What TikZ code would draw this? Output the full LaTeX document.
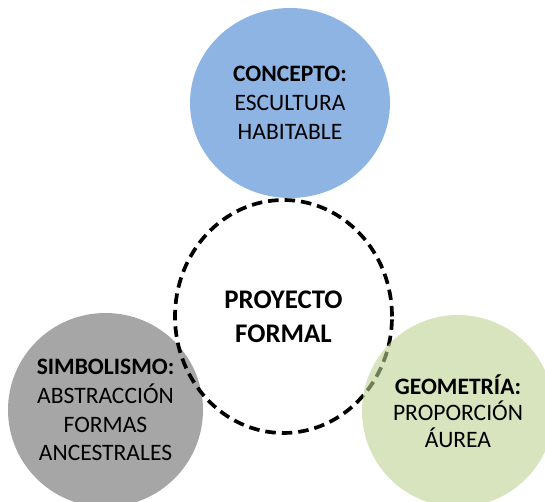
\documentclass[tikz,border=0pt]{standalone}
\usepackage{fontspec}
\setmainfont{Carlito}
\usepackage{tikz}
\usetikzlibrary{shapes.geometric}

\definecolor{SkyBlue}{RGB}{142,180,227}
\definecolor{StoneGray}{RGB}{166,166,166}
\definecolor{SageGreen}{RGB}{188,210,145}

\begin{document}
\begin{tikzpicture}[
    bubble/.style={ellipse, inner sep=0pt, align=center, text=black,
                   font=\fontsize{13.4}{16.4}\selectfont},
    core/.style={ellipse, inner sep=0pt, align=center, draw=black,
                 line width=2.1pt, dash pattern=on 6pt off 3.4pt,
                 font=\fontsize{15.3}{19.4}\selectfont\bfseries}
  ]
    \useasboundingbox (0,0) rectangle (10.9,10.04);
    % outer circles
    \node[bubble, fill=StoneGray, minimum width=3.9cm, minimum height=3.88cm]
         (simb) at (2.11,1.84)
         {\textbf{SIMBOLISMO:}\\ABSTRACCIÓN\\FORMAS\\ANCESTRALES};
    \node[core, minimum width=4.34cm, minimum height=4.66cm]
         (proy) at (5.67,3.71) {PROYECTO\\FORMAL};
    \node[bubble, fill=SageGreen, fill opacity=0.6, text opacity=1,
          minimum width=3.84cm, minimum height=3.84cm,
          font=\fontsize{13.4}{15.2}\selectfont]
         (geom) at (9.16,1.82) {\textbf{GEOMETRÍA:}\\PROPORCIÓN\\ÁUREA};
    \node[bubble, fill=SkyBlue, minimum width=4cm, minimum height=3.8cm]
         (conc) at (5.8,7.98) {\textbf{CONCEPTO:}\\ESCULTURA\\HABITABLE};
  \end{tikzpicture}
\end{document}
